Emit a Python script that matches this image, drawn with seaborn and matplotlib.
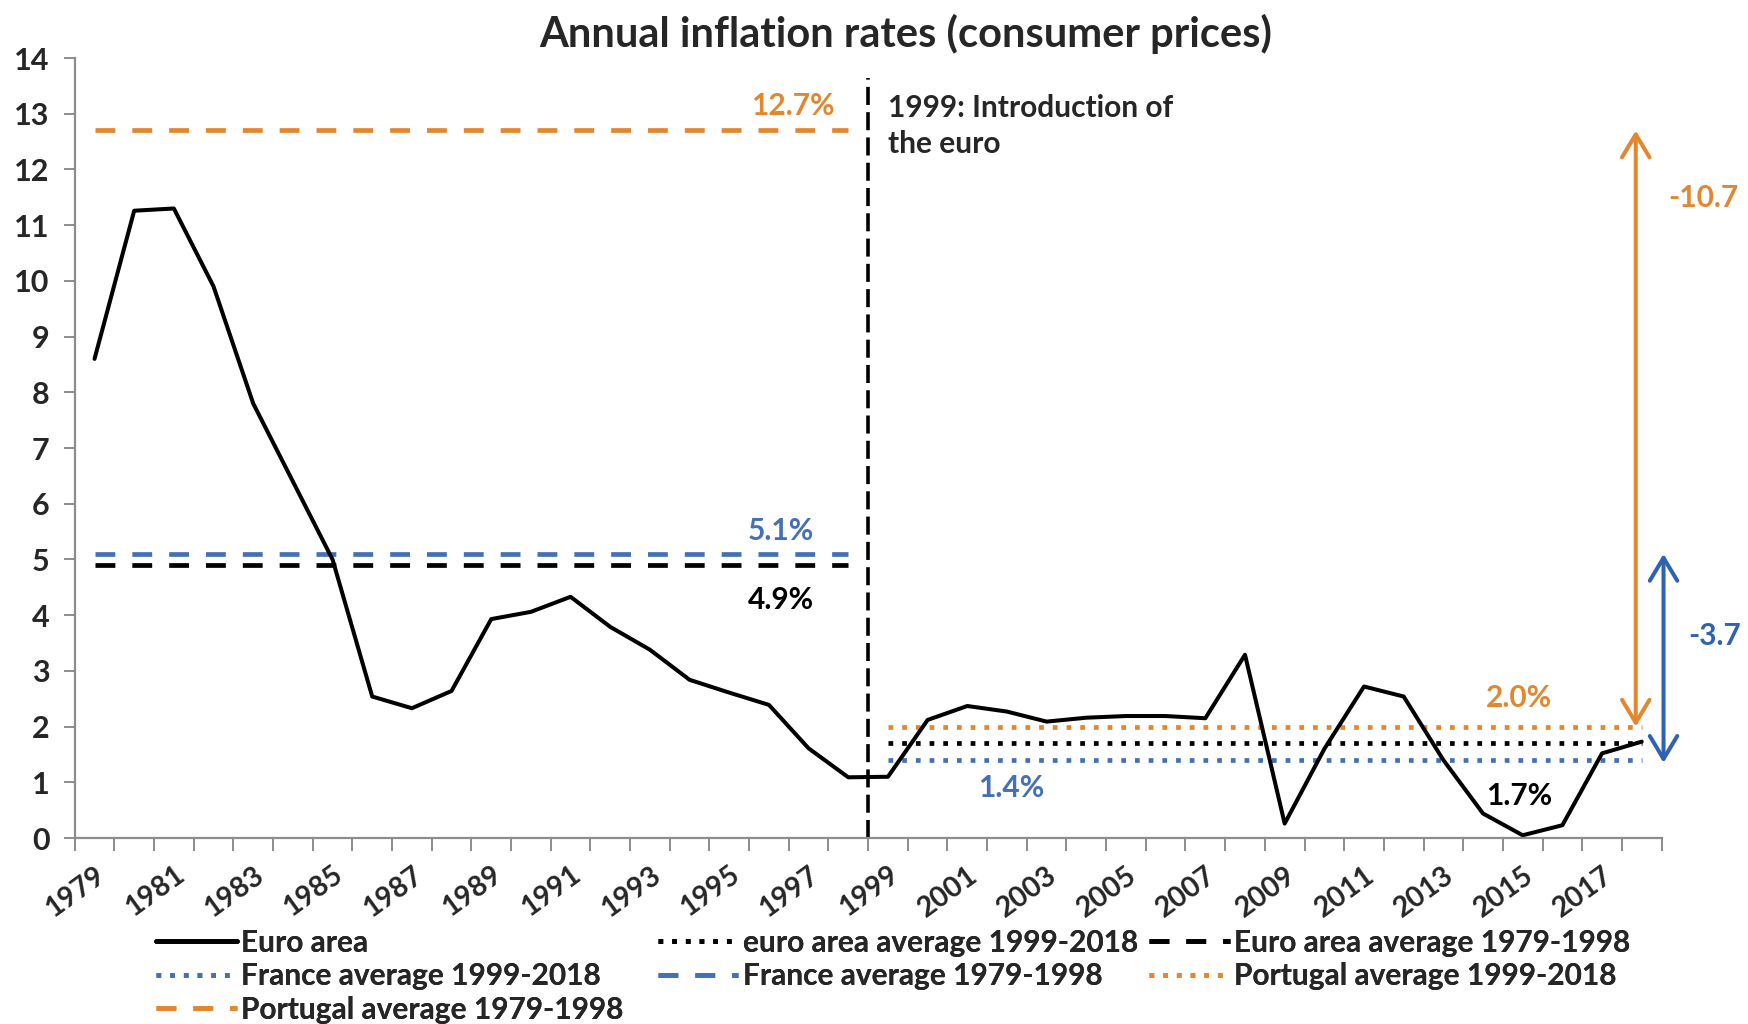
import matplotlib
matplotlib.use("Agg")
import matplotlib.pyplot as plt
from matplotlib.lines import Line2D
import seaborn as sns
import pandas as pd
import numpy as np

# Annual euro-area consumer price inflation, %
years = list(range(1979, 2019))
euro_area = [8.6, 11.26, 11.3, 9.9, 7.8, 6.4, 5.0, 2.54, 2.33, 2.64,
             3.93, 4.06, 4.33, 3.79, 3.38, 2.84, 2.61, 2.39, 1.61, 1.09,
             1.1, 2.12, 2.37, 2.27, 2.09, 2.16, 2.19, 2.19, 2.15, 3.29,
             0.26, 1.6, 2.72, 2.54, 1.4, 0.44, 0.05, 0.23, 1.52, 1.73]

# Period averages, %
euro_avg_pre = 4.9
france_avg_pre = 5.1
portugal_avg_pre = 12.7
euro_avg_post = 1.7
france_avg_post = 1.4
portugal_avg_post = 2.0

BLACK = "#000000"
BLUE = "#4470B8"
BLUE_ARROW = "#2F62B2"
ORANGE = "#E3872F"
GREY = "#8C8C8C"

FS = 21.5

sns.set_theme(style="white")
plt.rcParams["font.family"] = ["Lato", "DejaVu Sans"]
plt.rcParams["font.weight"] = "bold"

fig = plt.figure(figsize=(17.49, 10.24), dpi=100)
ax = fig.add_axes([0.0427, 0.1816, 0.9073, 0.7617])

idx = np.arange(len(years))
pre = idx[:20]
post = idx[20:]

df = pd.DataFrame({"idx": idx, "year": years, "value": euro_area})

DASH = (4.2, 3.6)
DOT = (1.0, 1.9)
LW_AVG = 3.4

# period averages
def avg_line(xs, val, color, dashes):
    d = pd.DataFrame({"idx": xs, "value": [val] * len(xs)})
    sns.lineplot(data=d, x="idx", y="value", ax=ax, color=color,
                 linewidth=LW_AVG, dashes=False)
    ln = ax.lines[-1]
    ln.set_dashes(dashes)
    ln.set_dash_capstyle("butt")
    return ln

avg_line(pre, portugal_avg_pre, ORANGE, DASH)
avg_line(pre, france_avg_pre, BLUE, DASH)
avg_line(pre, euro_avg_pre, BLACK, DASH)
avg_line(post, portugal_avg_post, ORANGE, DOT)
avg_line(post, euro_avg_post, BLACK, DOT)
avg_line(post, france_avg_post, BLUE, DOT)

# euro area series
sns.lineplot(data=df, x="idx", y="value", ax=ax, color=BLACK, linewidth=2.9)

# introduction of the euro
ax.plot([19.5, 19.5], [0, 13.65], color=BLACK, linewidth=2.6,
        dashes=(5, 2.0), solid_capstyle="butt")
ax.text(20.0, 13.35, "1999: Introduction of\nthe euro", fontsize=FS,
        fontweight="bold", va="top", ha="left", linespacing=1.35)

# value labels
def label(x, y, txt, color):
    ax.text(x, y, txt, color=color, fontsize=FS, fontweight="bold",
            ha="center", va="center", clip_on=False)

label(17.6, 13.14, f"{portugal_avg_pre:.1f}%", ORANGE)
label(17.3, 5.51, f"{france_avg_pre:.1f}%", BLUE)
label(17.3, 4.27, f"{euro_avg_pre:.1f}%", BLACK)
label(35.9, 2.52, f"{portugal_avg_post:.1f}%", ORANGE)
label(23.1, 0.9, f"{france_avg_post:.1f}%", BLUE)
label(35.9, 0.76, f"{euro_avg_post:.1f}%", BLACK)

# gaps between the two periods
arrow_style = "<->,head_length=0.75,head_width=0.45"
ax.annotate("", xy=(38.85, portugal_avg_post), xytext=(38.85, portugal_avg_pre),
            arrowprops=dict(arrowstyle=arrow_style, color=ORANGE, lw=2.9,
                            shrinkA=0, shrinkB=0, mutation_scale=22),
            annotation_clip=False)
ax.annotate("", xy=(39.55, france_avg_post - 0.05), xytext=(39.55, france_avg_pre),
            arrowprops=dict(arrowstyle=arrow_style, color=BLUE_ARROW, lw=2.9,
                            shrinkA=0, shrinkB=0, mutation_scale=22),
            annotation_clip=False)
label(40.55, 11.48, f"{portugal_avg_post - portugal_avg_pre:.1f}", ORANGE)
label(40.85, 3.63, f"{france_avg_post - france_avg_pre:.1f}", BLUE_ARROW)

# axes
ax.set_xlim(-0.5, 39.5)
ax.set_ylim(0, 14)
ax.set_yticks(range(0, 15))
ax.set_yticklabels([str(v) for v in range(0, 15)], fontsize=22, fontweight="bold")
ax.set_xticks(np.arange(-0.5, 40, 1.0))
ax.set_xticklabels([])
ax.set_xticks(idx[::2], minor=True)
ax.set_xticklabels([str(y) for y in years[::2]], minor=True, fontsize=20.5,
                   fontweight="bold", rotation=36, ha="right", va="top",
                   rotation_mode="anchor")
ax.tick_params(axis="x", which="major", length=9, width=1.4, color=GREY,
               direction="out", bottom=True)
ax.tick_params(axis="x", which="minor", length=0, pad=17, bottom=True)
ax.tick_params(axis="y", which="major", length=8, width=1.4, color=GREY,
               direction="out", left=True, pad=10)
ax.set_xlabel("")
ax.set_ylabel("")
for side in ["top", "right"]:
    ax.spines[side].set_visible(False)
for side in ["left", "bottom"]:
    ax.spines[side].set_color(GREY)
    ax.spines[side].set_linewidth(1.6)
ax.grid(False)

fig.text(0.518, 0.967, "Annual inflation rates (consumer prices)", fontsize=30,
         fontweight="bold", ha="center", va="center")

# legend, laid out row by row in three columns
def h(color, dashes=None):
    ln = Line2D([], [], color=color, linewidth=LW_AVG if dashes else 3.4)
    if dashes:
        ln.set_dashes(dashes)
        ln.set_dash_capstyle("butt")
    return ln

columns = [
    [(h(BLACK), "Euro area"),
     (h(BLUE, DOT), "France average 1999-2018"),
     (h(ORANGE, DASH), "Portugal average 1979-1998")],
    [(h(BLACK, DOT), "euro area average 1999-2018"),
     (h(BLUE, DASH), "France average 1979-1998")],
    [(h(BLACK, DASH), "Euro area average 1979-1998"),
     (h(ORANGE, DOT), "Portugal average 1999-2018")],
]
col_x = [0.0892, 0.376, 0.657]
for x0, col in zip(col_x, columns):
    leg = fig.legend([c[0] for c in col], [c[1] for c in col],
                     loc="upper left", bbox_to_anchor=(x0, 0.093),
                     frameon=False, handlelength=2.7,
                     handletextpad=0.15, labelspacing=0.18, borderpad=0,
                     borderaxespad=0, prop={"weight": "bold", "size": FS})
    fig.add_artist(leg)

fig.savefig("out.png", dpi=100, facecolor="white")
